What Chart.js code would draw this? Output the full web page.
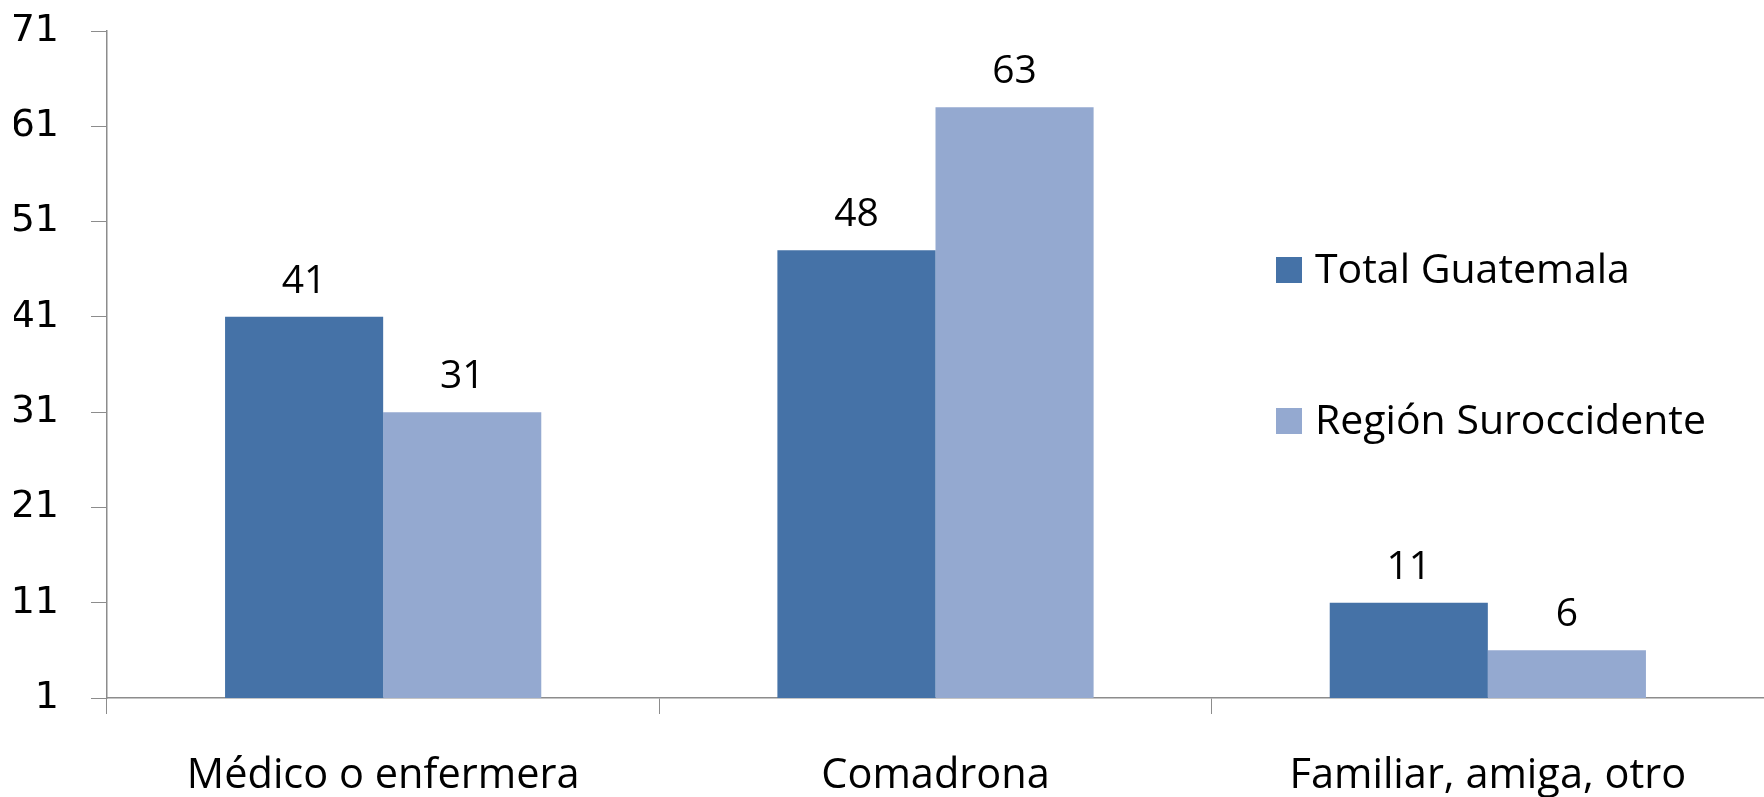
<!DOCTYPE html>
<html>
<head>
<meta charset="utf-8">
<script src="https://cdn.jsdelivr.net/npm/chart.js@4.4.1/dist/chart.umd.min.js"></script>
<style>
html,body{margin:0;padding:0;background:#fff;}
#wrap{position:relative;width:1764px;height:797px;overflow:hidden;}
.leg{position:absolute;left:1276px;height:40px;display:flex;align-items:center;font-family:"Open Sans", sans-serif;font-size:41px;color:#000;white-space:nowrap;line-height:40px;}
.leg i{display:inline-block;width:26px;height:26px;margin-right:13px;}
.leg span{position:relative;top:-3px;}
</style>
</head>
<body>
<div id="wrap">
<canvas id="c" width="1764" height="797"></canvas>
<div id="legend"></div>
</div>
<script>
const categories = ["Médico o enfermera", "Comadrona", "Familiar, amiga, otro"];
const seriesNames = ["Total Guatemala", "Región Suroccidente"];
const totalGuatemala = [41, 48, 11];
const regionSuroccidente = [31, 63, 6];
const yTicks = [1, 11, 21, 31, 41, 51, 61, 71];
const colors = ["#4572A7", "#94A9D0"];

const valueLabels = {
  id: 'valueLabels',
  afterDatasetsDraw(chart) {
    const ctx = chart.ctx;
    ctx.save();
    ctx.font = '39px "Open Sans"';
    ctx.fillStyle = '#000';
    ctx.textAlign = 'center';
    ctx.textBaseline = 'alphabetic';
    chart.data.datasets.forEach((ds, i) => {
      chart.getDatasetMeta(i).data.forEach((bar, j) => {
        ctx.fillText(String(ds.data[j]), bar.x, bar.y - 24);
      });
    });
    ctx.restore();
  }
};

const chart = new Chart(document.getElementById('c'), {
  type: 'bar',
  data: {
    labels: categories,
    datasets: [
      { label: seriesNames[0], data: totalGuatemala, backgroundColor: colors[0], borderWidth: 0 },
      { label: seriesNames[1], data: regionSuroccidente, backgroundColor: colors[1], borderWidth: 0 }
    ]
  },
  options: {
    responsive: false,
    animation: false,
    layout: { padding: { left: 14, right: 0, top: 31, bottom: 0 } },
    plugins: { legend: { display: false }, tooltip: { enabled: false } },
    datasets: { bar: { categoryPercentage: 0.5725, barPercentage: 1.0 } },
    scales: {
      x: {
        afterFit: (axis) => { axis.height = 99; axis.paddingLeft = 0; axis.paddingRight = 0; },
        grid: { display: true, drawOnChartArea: false, drawTicks: true, tickLength: 16, color: '#8c8c8c', offset: true },
        border: { display: true, color: '#8c8c8c', width: 1.5 },
        ticks: { color: '#000', font: { family: "'Open Sans'", size: 41.5 }, padding: 37, maxRotation: 0, autoSkip: false }
      },
      y: {
        min: yTicks[0],
        max: yTicks[yTicks.length - 1],
        afterBuildTicks: (axis) => { axis.ticks = yTicks.map(v => ({ value: v })); },
        afterFit: (axis) => { axis.width = 93; axis.paddingTop = 0; axis.paddingBottom = 0; },
        grid: { display: true, drawOnChartArea: false, drawTicks: true, tickLength: 16, color: '#8c8c8c' },
        border: { display: true, color: '#8c8c8c', width: 1.5 },
        ticks: { color: '#000', font: { family: "'DejaVu Sans', Verdana, sans-serif", size: 38 }, padding: 32 }
      }
    }
  },
  plugins: [valueLabels]
});

const legendEl = document.getElementById('legend');
const legendCenters = [270, 421];
chart.data.datasets.forEach((ds, i) => {
  const d = document.createElement('div');
  d.className = 'leg';
  d.style.top = (legendCenters[i] - 20) + 'px';
  const sw = document.createElement('i');
  sw.style.background = ds.backgroundColor;
  d.appendChild(sw);
  const t = document.createElement('span');
  t.textContent = ds.label;
  d.appendChild(t);
  legendEl.appendChild(d);
});
</script>
</body>
</html>
